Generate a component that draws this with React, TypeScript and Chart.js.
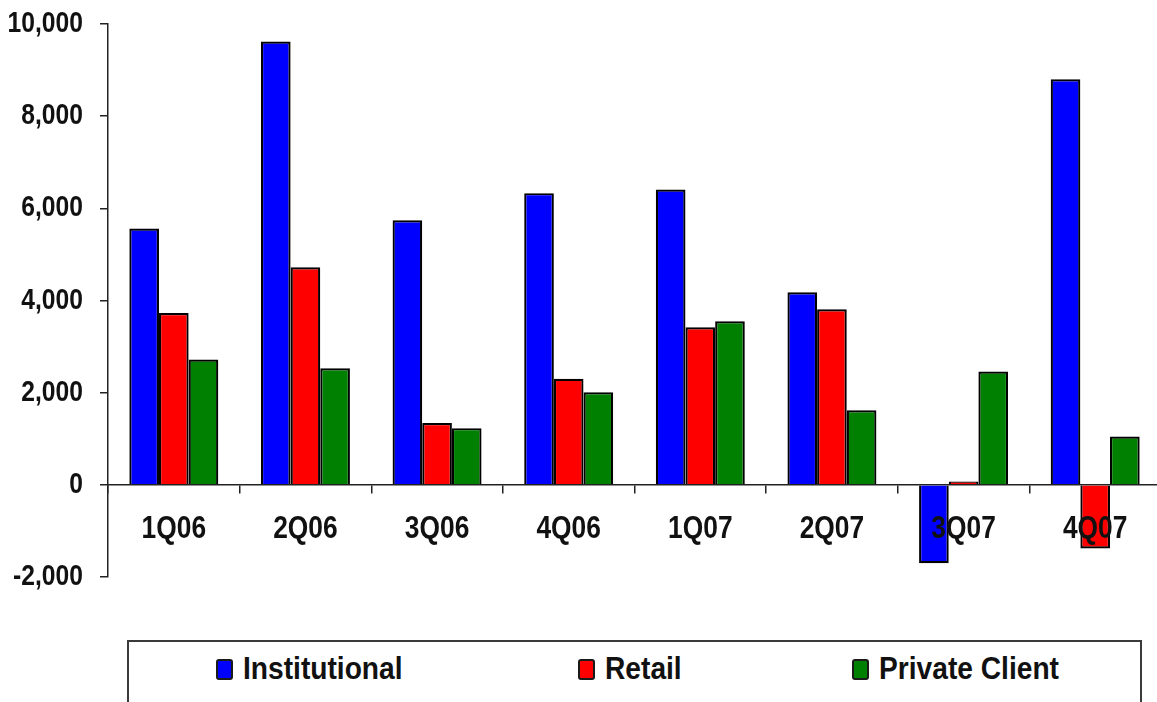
import { useEffect, useRef } from "react";
import { Chart, registerables } from "chart.js";

Chart.register(...registerables);

// Net flows by client segment, per quarter
const quarters = ["1Q06", "2Q06", "3Q06", "4Q06", "1Q07", "2Q07", "3Q07", "4Q07"];
const institutional = [5560, 9620, 5740, 6330, 6410, 4180, -1700, 8800];
const retail = [3730, 4720, 1340, 2300, 3420, 3810, 70, -1380];
const privateClient = [2720, 2530, 1230, 2010, 3550, 1620, 2460, 1050];

const yTicks = [-2000, 0, 2000, 4000, 6000, 8000, 10000];

const seriesNames = ["Institutional", "Retail", "Private Client"];
const seriesColors = ["#0000ff", "#ff0000", "#008000"];

const FONT = "'Liberation Sans', Arial, Helvetica, sans-serif";
const CANVAS_SQUEEZE = 0.85;
const LEGEND_SQUEEZE = 0.88;

// legend placement (page pixels)
const legendSwatchLeft = [216, 578, 852];
const legendTextLeft = [243, 605, 879];

// Draw every canvas label in a condensed face by narrowing each text run.
function squeezeText(ctx: CanvasRenderingContext2D, k: number) {
  const measure = ctx.measureText.bind(ctx);
  const fill = ctx.fillText.bind(ctx);
  (ctx as any).fillText = (text: string, x: number, y: number, maxWidth?: number) => {
    const w = measure(String(text)).width * k;
    fill(text, x, y, maxWidth === undefined ? w : Math.min(w, maxWidth));
  };
}

export default function App() {
  const ref = useRef<HTMLCanvasElement>(null);

  useEffect(() => {
    const canvas = ref.current!;
    const ctx = canvas.getContext("2d")!;
    squeezeText(ctx, CANVAS_SQUEEZE);

    const series = [institutional, retail, privateClient];
    const chart = new Chart(ctx, {
      type: "bar",
      data: {
        labels: quarters,
        datasets: series.map((values, i) => ({
          label: seriesNames[i],
          data: values,
          backgroundColor: seriesColors[i],
          borderColor: "#000",
          borderWidth: 2.2,
          categoryPercentage: 0.676,
          barPercentage: 1,
        })),
      },
      options: {
        responsive: false,
        animation: false,
        layout: { padding: { top: 24, right: 1, bottom: 43, left: 0 } },
        plugins: { legend: { display: false }, tooltip: { enabled: false } },
        scales: {
          x: {
            position: { y: 0 } as any,
            offset: true,
            grid: {
              offset: true,
              drawOnChartArea: false,
              drawTicks: true,
              tickLength: 8,
              color: "#222",
              lineWidth: 1.5,
            },
            border: { display: true, color: "#222", width: 1.5 },
            ticks: {
              z: 1,
              color: "#111",
              padding: 18,
              maxRotation: 0,
              autoSkip: false,
              font: { family: FONT, size: 31, weight: "bold" },
            },
          },
          y: {
            min: -2000,
            max: 10000,
            afterBuildTicks: (s: any) => {
              s.ticks = yTicks.map((v) => ({ value: v }));
            },
            afterFit: (s: any) => {
              s.width = 108;
              s.paddingTop = 0;
              s.paddingBottom = 0;
            },
            grid: {
              drawOnChartArea: false,
              drawTicks: true,
              tickLength: 8,
              color: "#222",
              lineWidth: 1.5,
            },
            border: { display: true, color: "#222", width: 1.5 },
            ticks: {
              color: "#111",
              padding: 17,
              font: { family: FONT, size: 29, weight: "bold" },
              callback: (v: any) => Number(v).toLocaleString("en-US"),
            },
          },
        },
      },
    });
    return () => chart.destroy();
  }, []);

  return (
    <div
      style={{
        position: "absolute",
        left: 0,
        top: 0,
        width: 1157,
        height: 702,
        overflow: "hidden",
        background: "#fff",
      }}
    >
      <canvas
        ref={ref}
        width={1162}
        height={620}
        style={{ position: "absolute", left: 0, top: 0, width: 1162, height: 620 }}
      />
      <div
        style={{
          position: "absolute",
          left: 127,
          top: 640,
          width: 1015,
          height: 100,
          border: "2px solid #3a3a3a",
          boxSizing: "border-box",
        }}
      />
      {seriesNames.map((name, i) => (
        <div key={name}>
          <div
            style={{
              position: "absolute",
              left: legendSwatchLeft[i],
              top: 659,
              width: 17,
              height: 21,
              background: seriesColors[i],
              border: "2px solid #1a1a1a",
              borderRadius: 3,
              boxSizing: "border-box",
            }}
          />
          <span
            style={{
              position: "absolute",
              left: legendTextLeft[i],
              top: 652,
              fontFamily: FONT,
              fontWeight: "bold",
              fontSize: 32,
              lineHeight: "32px",
              color: "#111",
              whiteSpace: "nowrap",
              transform: `scaleX(${LEGEND_SQUEEZE})`,
              transformOrigin: "0 0",
            }}
          >
            {name}
          </span>
        </div>
      ))}
    </div>
  );
}
